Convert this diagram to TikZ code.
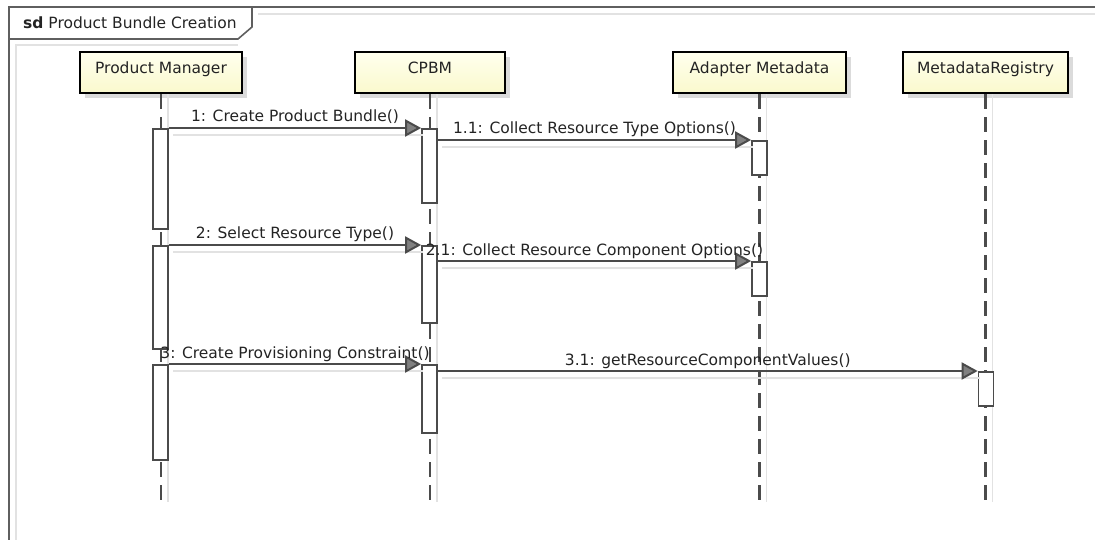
\documentclass[tikz,border=0pt]{standalone}
\usepackage{fontspec}
\setmainfont{DejaVu Sans}
\usetikzlibrary{arrows.meta,shadows}

\definecolor{framegray}{RGB}{95,95,95}
\definecolor{linegray}{RGB}{75,75,75}
\definecolor{shadegray}{RGB}{226,226,226}
\definecolor{txtgray}{RGB}{35,35,35}
\definecolor{boxtop}{RGB}{255,255,238}
\definecolor{boxbot}{RGB}{250,249,205}

\tikzset{
  actor/.style={draw=black, line width=2.4pt, top color=boxtop, bottom color=boxbot,
    minimum height=41pt, text height=11pt, text depth=9pt, inner sep=0pt, text=txtgray,
    drop shadow={shadow xshift=5pt, shadow yshift=-5pt, fill=black!14, opacity=1}},
  life/.style={linegray, line width=2.2pt, dash pattern=on 15pt off 8pt},
  lifeshade/.style={shadegray, line width=1.2pt},
  bar/.style={draw=linegray, fill=white, line width=1.7pt, anchor=north,
    minimum width=15pt, inner sep=0pt},
  msg/.style={linegray, line width=2pt, -{Triangle[length=16pt,width=17pt,fill=black!50]}},
  msgshade/.style={shadegray, line width=1.8pt},
  lbl/.style={text=txtgray, anchor=base, yshift=6pt, inner sep=0pt}
}

\begin{document}
\begin{tikzpicture}[x=1pt, y=-1pt, font=\fontsize{15.5}{18}\selectfont]
\useasboundingbox (0,0) rectangle (1095,540);

% frame and its tab
\draw[shadegray, line width=1.2pt] (16,540) -- (16,45) -- (238,45);
\draw[shadegray, line width=1.2pt] (258,14) -- (1095,14);
\draw[framegray, line width=2pt] (9,540) -- (9,7) -- (1095,7);
\draw[framegray, line width=1.6pt] (9,39) -- (238,39) -- (252,27) -- (252,7);
\node[text=txtgray, anchor=base west, inner sep=0pt] (title) at (23,29)
  {\textbf{sd} Product Bundle Creation};

\node[actor, minimum width=162pt] (pm) at (161,72.5) {Product Manager};
\node[actor, minimum width=150pt] (cp) at (430,72.5) {CPBM};
\node[actor, minimum width=173pt] (ad) at (759.5,72.5) {Adapter Metadata};
\node[actor, minimum width=165pt] (mr) at (985.5,72.5) {MetadataRegistry};

\coordinate (bottom) at (0,502);

\foreach \n in {pm,cp,ad,mr} {
  \draw[lifeshade] ([xshift=7pt]\n.south) -- ([xshift=7pt]\n.south |- bottom);
  \draw[life] (\n.south) -- (\n.south |- bottom);
}

% activation bars
\foreach \n/\x/\t/\h in {pm1/160.5/128/100, pm2/160.5/245/103, pm3/160.5/364/95,
                         cp1/429.5/128/74, cp2/429.5/245/77, cp3/429.5/364/68,
                         ad1/759.5/140/34, ad2/759.5/261/34, mr1/986/371/34}
  \node[bar, minimum height=\h] (\n) at (\x,\t) {};

% messages
\foreach \a/\b/\txt in {pm1.north east/cp1.north west/{1: Create Product Bundle()},
                        cp1.east |- ad1.north/ad1.north west/{1.1: Collect Resource Type Options()},
                        pm2.north east/cp2.north west/{2: Select Resource Type()},
                        cp2.east |- ad2.north/ad2.north west/{2.1: Collect Resource Component Options()},
                        pm3.north east/cp3.north west/{3: Create Provisioning Constraint()},
                        cp3.east |- mr1.north/mr1.north west/{3.1: getResourceComponentValues()}} {
  \draw[msgshade] ([shift={(4pt,-7pt)}]\a) -- ([shift={(2pt,-7pt)}]\b);
  \draw[msg] (\a) -- node[lbl] {\txt} (\b);
}

\end{tikzpicture}
\end{document}
